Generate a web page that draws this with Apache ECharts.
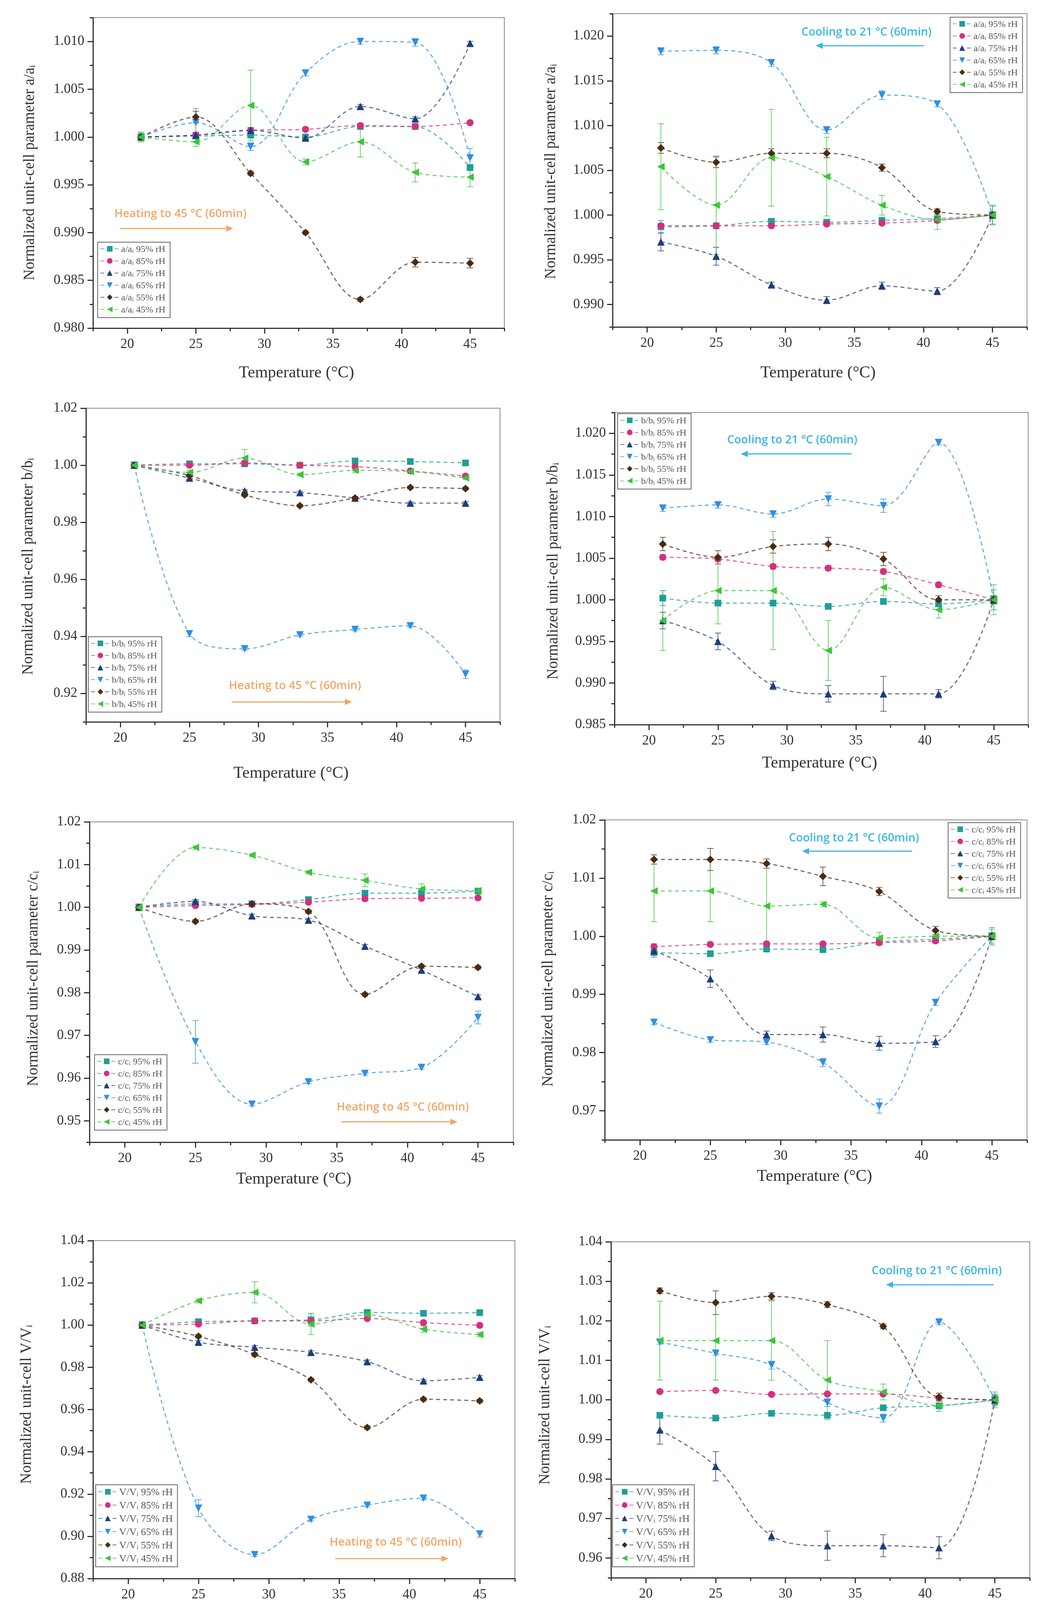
<!DOCTYPE html>
<html><head><meta charset="utf-8">
<script src="https://cdn.jsdelivr.net/npm/echarts@6/dist/echarts.min.js"></script>
<style>html,body{margin:0;padding:0;background:#fff}#c{width:2675px;height:4205px}</style>
</head><body><div id="c"></div>
<script>
// ---------- data ----------
const TEMPS = [21, 25, 29, 33, 37, 41, 45];
const RH = ['95% rH', '85% rH', '75% rH', '65% rH', '55% rH', '45% rH'];
const X_TICKS = [20, 25, 30, 35, 40, 45];
const X_MINOR = [17.5, 22.5, 27.5, 32.5, 37.5, 42.5, 47.5];

// rows: 95, 85, 75, 65, 55, 45 % rH
const A_HEAT = [
  [1.0000, 1.0001, 1.0002, 1.0000, 1.0011, 1.0011, 0.9968],
  [1.0000, 1.0002, 1.0007, 1.0008, 1.0012, 1.0011, 1.0015],
  [1.0000, 1.0002, 1.0007, 0.9999, 1.0032, 1.0019, 1.0098],
  [1.0000, 1.0015, 0.9990, 1.0067, 1.0100, 1.0099, 0.9978],
  [1.0000, 1.0021, 0.9962, 0.9900, 0.9830, 0.9869, 0.9868],
  [1.0000, 0.9995, 1.0033, 0.9974, 0.9995, 0.9963, 0.9958]
];
const A_HEAT_ERR = [
  [0.0005, 0.0003, 0.0003, 0.0002, 0.0002, 0.0002, 0.0003],
  [0.0003, 0.0002, 0.0002, 0.0002, 0.0002, 0.0002, 0.0002],
  [0.0003, 0.0003, 0.0003, 0.0002, 0.0002, 0.0002, 0.0002],
  [0.0003, 0.0015, 0.0004, 0.0003, 0.0003, 0.0004, 0.0010],
  [0.0003, 0.0006, 0.0002, 0.0002, 0.0002, 0.0005, 0.0005],
  [0.0005, 0.0005, 0.0037, 0.0003, 0.0016, 0.0010, 0.0010]
];
const A_COOL = [
  [0.9987, 0.9988, 0.9993, 0.9992, 0.9994, 0.9996, 1.0000],
  [0.9988, 0.9988, 0.9988, 0.9990, 0.9991, 0.9994, 1.0000],
  [0.9970, 0.9954, 0.9922, 0.9905, 0.9921, 0.9915, 1.0000],
  [1.0183, 1.0184, 1.0170, 1.0095, 1.0134, 1.0124, 1.0000],
  [1.0075, 1.0059, 1.0069, 1.0069, 1.0053, 1.0004, 1.0000],
  [1.0054, 1.0011, 1.0064, 1.0043, 1.0011, 0.9995, 1.0000]
];
const A_COOL_ERR = [
  [0.0007, 0.0003, 0.0003, 0.0003, 0.0003, 0.0003, 0.0010],
  [0.0002, 0.0002, 0.0002, 0.0002, 0.0002, 0.0002, 0.0002],
  [0.0010, 0.0010, 0.0003, 0.0004, 0.0004, 0.0004, 0.0003],
  [0.0004, 0.0004, 0.0004, 0.0004, 0.0005, 0.0003, 0.0003],
  [0.0006, 0.0006, 0.0005, 0.0005, 0.0004, 0.0003, 0.0003],
  [0.0048, 0.0055, 0.0054, 0.0044, 0.0011, 0.0011, 0.0011]
];
const B_HEAT = [
  [1.0000, 1.0005, 1.0005, 1.0000, 1.0015, 1.0013, 1.0008],
  [1.0000, 1.0000, 1.0008, 1.0000, 0.9995, 0.9980, 0.9962],
  [1.0000, 0.9955, 0.9910, 0.9904, 0.9885, 0.9867, 0.9867],
  [1.0000, 0.9409, 0.9356, 0.9405, 0.9424, 0.9437, 0.9267],
  [1.0000, 0.9964, 0.9896, 0.9858, 0.9885, 0.9922, 0.9918],
  [1.0000, 0.9975, 1.0025, 0.9967, 0.9982, 0.9978, 0.9955]
];
const B_HEAT_ERR = [
  [0.0005, 0.0005, 0.0005, 0.0005, 0.0005, 0.0005, 0.0005],
  [0.0005, 0.0005, 0.0005, 0.0005, 0.0005, 0.0005, 0.0005],
  [0.0005, 0.0005, 0.0005, 0.0005, 0.0005, 0.0005, 0.0005],
  [0.0005, 0.0010, 0.0005, 0.0005, 0.0005, 0.0005, 0.0015],
  [0.0005, 0.0005, 0.0005, 0.0005, 0.0005, 0.0005, 0.0005],
  [0.0005, 0.0008, 0.0030, 0.0005, 0.0008, 0.0005, 0.0005]
];
const B_COOL = [
  [1.0002, 0.9996, 0.9996, 0.9992, 0.9998, 0.9995, 1.0000],
  [1.0051, 1.0049, 1.0040, 1.0038, 1.0034, 1.0018, 1.0000],
  [0.9975, 0.9950, 0.9897, 0.9887, 0.9887, 0.9887, 1.0000],
  [1.0110, 1.0114, 1.0103, 1.0121, 1.0113, 1.0189, 1.0000],
  [1.0067, 1.0051, 1.0064, 1.0067, 1.0049, 1.0000, 1.0000],
  [0.9975, 1.0011, 1.0011, 0.9939, 1.0015, 0.9988, 1.0000]
];
const B_COOL_ERR = [
  [0.0009, 0.0003, 0.0003, 0.0003, 0.0003, 0.0003, 0.0012],
  [0.0003, 0.0003, 0.0003, 0.0003, 0.0003, 0.0003, 0.0003],
  [0.0010, 0.0010, 0.0005, 0.0010, 0.0021, 0.0005, 0.0004],
  [0.0004, 0.0004, 0.0004, 0.0008, 0.0008, 0.0003, 0.0003],
  [0.0008, 0.0008, 0.0008, 0.0008, 0.0008, 0.0005, 0.0005],
  [0.0036, 0.0040, 0.0071, 0.0036, 0.0010, 0.0010, 0.0018]
];
const C_HEAT = [
  [1.0000, 1.0008, 1.0008, 1.0018, 1.0033, 1.0033, 1.0038],
  [1.0000, 1.0004, 1.0007, 1.0012, 1.0020, 1.0021, 1.0022],
  [1.0000, 1.0014, 0.9980, 0.9970, 0.9909, 0.9853, 0.9791],
  [1.0000, 0.9685, 0.9539, 0.9591, 0.9611, 0.9625, 0.9742],
  [1.0000, 0.9967, 1.0008, 0.9990, 0.9796, 0.9862, 0.9859],
  [1.0000, 1.0140, 1.0122, 1.0082, 1.0063, 1.0043, 1.0039]
];
const C_HEAT_ERR = [
  [0.0004, 0.0004, 0.0004, 0.0004, 0.0004, 0.0004, 0.0004],
  [0.0004, 0.0004, 0.0004, 0.0004, 0.0004, 0.0004, 0.0004],
  [0.0004, 0.0004, 0.0004, 0.0004, 0.0004, 0.0004, 0.0004],
  [0.0004, 0.0050, 0.0004, 0.0004, 0.0004, 0.0004, 0.0015],
  [0.0004, 0.0004, 0.0004, 0.0004, 0.0004, 0.0004, 0.0004],
  [0.0004, 0.0004, 0.0004, 0.0004, 0.0015, 0.0012, 0.0005]
];
const C_COOL = [
  [0.9972, 0.9970, 0.9978, 0.9977, 0.9990, 0.9995, 1.0000],
  [0.9982, 0.9986, 0.9987, 0.9987, 0.9989, 0.9992, 1.0000],
  [0.9975, 0.9927, 0.9831, 0.9831, 0.9816, 0.9819, 1.0000],
  [0.9852, 0.9822, 0.9818, 0.9783, 0.9708, 0.9886, 1.0000],
  [1.0132, 1.0132, 1.0125, 1.0103, 1.0077, 1.0010, 1.0000],
  [1.0078, 1.0078, 1.0052, 1.0055, 0.9997, 1.0000, 1.0000]
];
const C_COOL_ERR = [
  [0.0008, 0.0004, 0.0004, 0.0004, 0.0004, 0.0004, 0.0015],
  [0.0005, 0.0003, 0.0003, 0.0003, 0.0003, 0.0003, 0.0003],
  [0.0008, 0.0015, 0.0006, 0.0013, 0.0012, 0.0010, 0.0006],
  [0.0004, 0.0004, 0.0004, 0.0007, 0.0012, 0.0005, 0.0004],
  [0.0008, 0.0019, 0.0008, 0.0016, 0.0007, 0.0007, 0.0006],
  [0.0053, 0.0053, 0.0065, 0.0004, 0.0010, 0.0008, 0.0012]
];
const V_HEAT = [
  [1.0000, 1.0016, 1.0020, 1.0025, 1.0060, 1.0056, 1.0059],
  [1.0000, 1.0005, 1.0020, 1.0020, 1.0031, 1.0012, 0.9999],
  [1.0000, 0.9919, 0.9895, 0.9871, 0.9827, 0.9736, 0.9753],
  [1.0000, 0.9133, 0.8913, 0.9080, 0.9147, 0.9180, 0.9011],
  [1.0000, 0.9947, 0.9861, 0.9741, 0.9515, 0.9649, 0.9641],
  [1.0000, 1.0115, 1.0155, 1.0005, 1.0049, 0.9981, 0.9955]
];
const V_HEAT_ERR = [
  [0.0008, 0.0008, 0.0008, 0.0030, 0.0008, 0.0008, 0.0008],
  [0.0008, 0.0008, 0.0008, 0.0008, 0.0008, 0.0008, 0.0008],
  [0.0008, 0.0008, 0.0008, 0.0008, 0.0008, 0.0008, 0.0008],
  [0.0008, 0.0040, 0.0008, 0.0008, 0.0008, 0.0008, 0.0015],
  [0.0008, 0.0008, 0.0008, 0.0008, 0.0008, 0.0008, 0.0008],
  [0.0010, 0.0010, 0.0050, 0.0050, 0.0015, 0.0015, 0.0010]
];
const V_COOL = [
  [0.9961, 0.9954, 0.9966, 0.9961, 0.9980, 0.9985, 1.0000],
  [1.0021, 1.0024, 1.0014, 1.0015, 1.0015, 1.0005, 1.0000],
  [0.9924, 0.9832, 0.9656, 0.9631, 0.9631, 0.9626, 1.0000],
  [1.0146, 1.0118, 1.0088, 0.9993, 0.9954, 1.0197, 1.0000],
  [1.0276, 1.0246, 1.0262, 1.0241, 1.0186, 1.0007, 1.0000],
  [1.0150, 1.0150, 1.0150, 1.0050, 1.0020, 0.9986, 1.0000]
];
const V_COOL_ERR = [
  [0.0006, 0.0004, 0.0004, 0.0006, 0.0006, 0.0005, 0.0015],
  [0.0004, 0.0004, 0.0004, 0.0004, 0.0004, 0.0004, 0.0004],
  [0.0036, 0.0037, 0.0012, 0.0037, 0.0028, 0.0028, 0.0012],
  [0.0005, 0.0005, 0.0010, 0.0010, 0.0010, 0.0007, 0.0010],
  [0.0007, 0.0030, 0.0009, 0.0007, 0.0006, 0.0010, 0.0008],
  [0.0100, 0.0100, 0.0100, 0.0100, 0.0020, 0.0015, 0.0020]
];

const Y_TICKS_A_HEAT = [0.980, 0.985, 0.990, 0.995, 1.000, 1.005, 1.010];
const Y_TICKS_A_COOL = [0.990, 0.995, 1.000, 1.005, 1.010, 1.015, 1.020];
const Y_TICKS_B_HEAT = [0.92, 0.94, 0.96, 0.98, 1.00, 1.02];
const Y_TICKS_B_COOL = [0.985, 0.990, 0.995, 1.000, 1.005, 1.010, 1.015, 1.020];
const Y_TICKS_C_HEAT = [0.95, 0.96, 0.97, 0.98, 0.99, 1.00, 1.01, 1.02];
const Y_TICKS_C_COOL = [0.97, 0.98, 0.99, 1.00, 1.01, 1.02];
const Y_TICKS_V_HEAT = [0.88, 0.90, 0.92, 0.94, 0.96, 0.98, 1.00, 1.02, 1.04];
const Y_TICKS_V_COOL = [0.96, 0.97, 0.98, 0.99, 1.00, 1.01, 1.02, 1.03, 1.04];

const HEAT_TEXT = 'Heating to 45 °C (60min)';
const COOL_TEXT = 'Cooling to 21 °C (60min)';

// ---------- styles ----------
const COLORS = ['#1f9e99', '#d62f7d', '#1d3d7a', '#2f8fe0', '#4a2c14', '#3cc43c'];
const SYMBOLS = ['rect', 'circle', 'triangle', 'triangle', 'diamond', 'triangle'];
const ROTS = [0, 0, 0, 180, 0, 90];
const SIZES = [17, 18, 19, 19, 20, 19];
const SERIF = 'Liberation Serif';
const HEAT_COLOR = '#f2a766';
const COOL_COLOR = '#3bb6e4';

const PANELS = [
  { id: 'aH', v: A_HEAT, e: A_HEAT_ERR, sym: ['a/a', 'i'], title: ['Normalized unit-cell parameter a/a', 'i'], yMin: 0.980, yMax: 1.0125, ticks: Y_TICKS_A_HEAT, dec: 3,
    grid: [238, 45, 1053, 795], leg: [250, 620], lf: 24, heat: true, note: [462, 548], arrow: [307, 597, 585], yt: [73, 442], xt: [759, 955] },
  { id: 'aC', v: A_COOL, e: A_COOL_ERR, sym: ['a/a', 'i'], title: ['Normalized unit-cell parameter a/a', 'i'], yMin: 0.9875, yMax: 1.0225, ticks: Y_TICKS_A_COOL, dec: 3,
    grid: [1568, 35, 1061, 802], leg: [2432, 44], lf: 24, heat: false, note: [2218, 83], arrow: [2365, 2088, 117], yt: [1407, 439], xt: [2094, 955] },
  { id: 'bH', v: B_HEAT, e: B_HEAT_ERR, sym: ['b/b', 'i'], title: ['Normalized unit-cell parameter b/b', 'i'], yMin: 0.91, yMax: 1.02, ticks: Y_TICKS_B_HEAT, dec: 2,
    grid: [220, 1045, 1060, 803], leg: [226, 1630], lf: 24, heat: true, note: [755, 1756], arrow: [593, 901, 1797], yt: [69, 1450], xt: [745, 1980] },
  { id: 'bC', v: B_COOL, e: B_COOL_ERR, sym: ['b/b', 'i'], title: ['Normalized unit-cell parameter b/b', 'i'], yMin: 0.985, yMax: 1.0225, ticks: Y_TICKS_B_COOL, dec: 3,
    grid: [1573, 1056, 1059, 799], leg: [1581, 1059], lf: 24, heat: false, note: [2028, 1127], arrow: [2180, 1896, 1162], yt: [1413, 1462], xt: [2098, 1954] },
  { id: 'cH', v: C_HEAT, e: C_HEAT_ERR, sym: ['c/c', 'i'], title: ['Normalized unit-cell parameter c/c', 'i'], yMin: 0.945, yMax: 1.02, ticks: Y_TICKS_C_HEAT, dec: 2,
    grid: [229, 2104, 1085, 820], leg: [242, 2700], lf: 24, heat: true, note: [1031, 2835], arrow: [873, 1171, 2872], yt: [82, 2505], xt: [752, 3019] },
  { id: 'cC', v: C_COOL, e: C_COOL_ERR, sym: ['c/c', 'i'], title: ['Normalized unit-cell parameter c/c', 'i'], yMin: 0.965, yMax: 1.02, ticks: Y_TICKS_C_COOL, dec: 2,
    grid: [1548, 2099, 1081, 819], leg: [2427, 2106], lf: 24, heat: false, note: [2186, 2146], arrow: [2335, 2053, 2179], yt: [1400, 2506], xt: [2085, 3012] },
  { id: 'vH', v: V_HEAT, e: V_HEAT_ERR, sym: ['V/V', 'i'], title: ['Normalized unit-cell V/V', 'i'], yMin: 0.88, yMax: 1.04, ticks: Y_TICKS_V_HEAT, dec: 2,
    grid: [238, 3176, 1080, 865], leg: [245, 3801], lf: 26, heat: true, note: [1013, 3949], arrow: [858, 1148, 3990], yt: [65, 3595], xt: [772, 4154] },
  { id: 'vC', v: V_COOL, e: V_COOL_ERR, sym: ['V/V', 'i'], title: ['Normalized unit-cell V/V', 'i'], yMin: 0.955, yMax: 1.04, ticks: Y_TICKS_V_COOL, dec: 2,
    grid: [1564, 3179, 1072, 860], leg: [1568, 3801], lf: 26, heat: false, note: [2398, 3254], arrow: [2543, 2268, 3289], yt: [1392, 3597], xt: [2094, 4151] }
];

function minorOf(ticks, lo, hi) {
  const out = [];
  const step = ticks[1] - ticks[0];
  if (ticks[0] - step / 2 >= lo - 1e-9) out.push(ticks[0] - step / 2);
  for (let i = 0; i < ticks.length - 1; i++) out.push((ticks[i] + ticks[i + 1]) / 2);
  const last = ticks[ticks.length - 1];
  if (last + step / 2 <= hi + 1e-9) out.push(last + step / 2);
  return out;
}

function errRender(color) {
  return function (params, api) {
    const x = api.value(0), lo = api.value(1), hi = api.value(2);
    const a = api.coord([x, hi]), b = api.coord([x, lo]);
    const w = 8;
    const st = { stroke: color, lineWidth: 2, opacity: 0.75 };
    return { type: 'group', children: [
      { type: 'line', shape: { x1: a[0], y1: a[1], x2: b[0], y2: b[1] }, style: st },
      { type: 'line', shape: { x1: a[0] - w, y1: a[1], x2: a[0] + w, y2: a[1] }, style: st },
      { type: 'line', shape: { x1: b[0] - w, y1: b[1], x2: b[0] + w, y2: b[1] }, style: st }
    ] };
  };
}

const grids = [], xAxes = [], yAxes = [], series = [], legends = [], graphics = [];
const axisCol = '#333';

PANELS.forEach((p, pi) => {
  grids.push({ left: p.grid[0], top: p.grid[1], width: p.grid[2], height: p.grid[3], show: true, borderColor: '#8a8a8a', borderWidth: 2, containLabel: false });
  xAxes.push({ gridIndex: pi, type: 'value', position: 'bottom', min: 17.5, max: 47.5,
    axisLine: { onZero: false, lineStyle: { color: axisCol, width: 3 } },
    axisTick: { customValues: X_TICKS, length: 14, lineStyle: { color: axisCol, width: 3 } },
    axisLabel: { customValues: X_TICKS, fontFamily: SERIF, fontSize: 35, color: '#333', margin: 24 },
    splitLine: { show: false } });
  xAxes.push({ gridIndex: pi, type: 'value', position: 'bottom', min: 17.5, max: 47.5,
    axisLine: { show: false },
    axisTick: { customValues: X_MINOR, length: 8, lineStyle: { color: axisCol, width: 3 } },
    axisLabel: { show: false }, splitLine: { show: false } });
  const minor = minorOf(p.ticks, p.yMin, p.yMax);
  yAxes.push({ gridIndex: pi, type: 'value', position: 'left', min: p.yMin, max: p.yMax,
    axisLine: { show: true, onZero: false, lineStyle: { color: axisCol, width: 3 } },
    axisTick: { show: true, customValues: p.ticks, length: 14, lineStyle: { color: axisCol, width: 3 } },
    axisLabel: { customValues: p.ticks, fontFamily: SERIF, fontSize: 35, color: '#333', margin: 22,
      formatter: (v) => Number(v).toFixed(p.dec) },
    splitLine: { show: false } });
  yAxes.push({ gridIndex: pi, type: 'value', position: 'left', min: p.yMin, max: p.yMax,
    axisLine: { show: false },
    axisTick: { show: true, customValues: minor, length: 8, lineStyle: { color: axisCol, width: 3 } },
    axisLabel: { show: false }, splitLine: { show: false } });

  const names = [];
  for (let k = 0; k < 6; k++) {
    const nm = p.id + '|' + k;
    names.push(nm);
    series.push({
      type: 'custom', name: nm + '_err', xAxisIndex: 2 * pi, yAxisIndex: 2 * pi, silent: true, z: 2,
      renderItem: errRender(COLORS[k]), encode: { x: 0, y: [1, 2] },
      data: TEMPS.map((t, i) => [t, p.v[k][i] - p.e[k][i], p.v[k][i] + p.e[k][i]])
    });
    series.push({
      type: 'line', name: nm, xAxisIndex: 2 * pi, yAxisIndex: 2 * pi, z: 4,
      data: TEMPS.map((t, i) => [t, p.v[k][i]]),
      smooth: 0.35, symbol: SYMBOLS[k], symbolRotate: ROTS[k], symbolSize: SIZES[k],
      showAllSymbol: true, animation: false,
      itemStyle: { color: COLORS[k], opacity: 1 },
      lineStyle: { type: [10, 8], width: 3, color: COLORS[k], opacity: 0.7 }
    });
  }
  const lh = p.lf + 4;
  legends.push({
    data: names, orient: 'vertical', left: p.leg[0], top: p.leg[1], selectedMode: false,
    backgroundColor: '#fff', borderColor: '#666', borderWidth: 2, padding: [7, 12, 7, 6],
    itemWidth: 48, itemHeight: 18, itemGap: p.lf === 24 ? 7 : 8,
    formatter: (name) => {
      const k = +name.split('|')[1];
      return '{n|' + p.sym[0] + '}{s|' + p.sym[1] + '}{n| ' + RH[k] + '}';
    },
    textStyle: { fontFamily: SERIF, fontSize: p.lf, color: '#555',
      rich: { n: { fontFamily: SERIF, fontSize: p.lf, color: '#555', lineHeight: lh, verticalAlign: 'bottom' },
              s: { fontFamily: SERIF, fontSize: Math.round(p.lf * 0.62), color: '#555', lineHeight: 12, verticalAlign: 'bottom' } } }
  });

  // axis titles
  graphics.push({ type: 'text', x: p.yt[0], y: p.yt[1], rotation: Math.PI / 2, z: 10,
    style: { text: '{n|' + p.title[0] + '}{s|' + p.title[1] + '}', align: 'center', verticalAlign: 'middle',
      rich: { n: { fontFamily: SERIF, fontSize: 39, fill: '#333', lineHeight: 46, verticalAlign: 'bottom' },
              s: { fontFamily: SERIF, fontSize: 24, fill: '#333', lineHeight: 18, verticalAlign: 'bottom' } } } });
  graphics.push({ type: 'text', x: p.xt[0], y: p.xt[1], z: 10,
    style: { text: 'Temperature (°C)', fontFamily: SERIF, fontSize: 42, fill: '#333', align: 'center', verticalAlign: 'middle' } });

  // annotation
  const col = p.heat ? HEAT_COLOR : COOL_COLOR;
  graphics.push({ type: 'text', x: p.note[0], y: p.note[1], z: 10,
    style: { text: p.heat ? HEAT_TEXT : COOL_TEXT, fontFamily: 'Open Sans', fontWeight: 600, fontSize: 29, fill: col, align: 'center', verticalAlign: 'middle' } });
  const x1 = p.arrow[0], x2 = p.arrow[1], ay = p.arrow[2];
  const dir = x2 > x1 ? 1 : -1;
  graphics.push({ type: 'line', z: 10, shape: { x1: x1, y1: ay, x2: x2 - dir * 12, y2: ay }, style: { stroke: col, lineWidth: 3 } });
  graphics.push({ type: 'polygon', z: 10, shape: { points: [[x2, ay], [x2 - dir * 18, ay - 8], [x2 - dir * 18, ay + 8]] }, style: { fill: col } });
});

const chart = echarts.init(document.getElementById('c'), null, { renderer: 'canvas' });
chart.setOption({
  backgroundColor: '#fff',
  animation: false,
  grid: grids, xAxis: xAxes, yAxis: yAxes, series: series, legend: legends, graphic: graphics
});
</script></body></html>
